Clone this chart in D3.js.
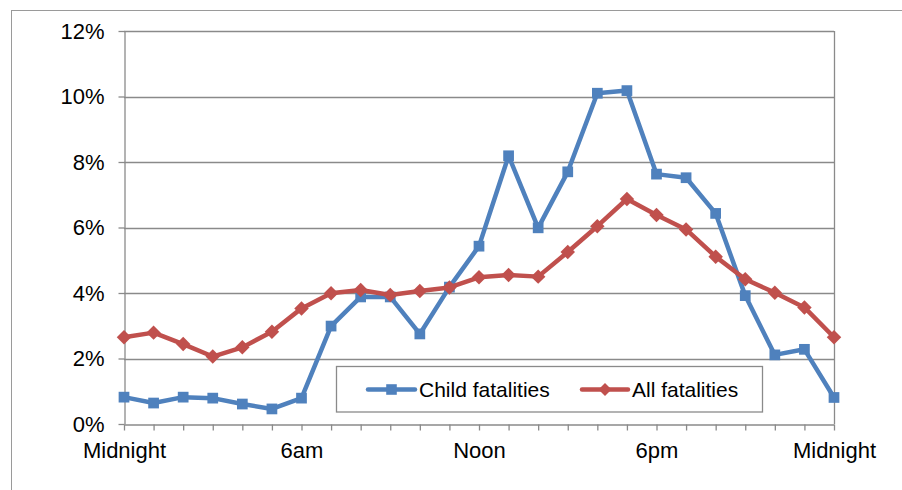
<!DOCTYPE html>
<html>
<head>
<meta charset="utf-8">
<script src="https://cdn.jsdelivr.net/npm/d3@7/dist/d3.min.js"></script>
<style>
  body { margin: 0; background: #fff; }
  svg text { font-family: "Liberation Sans", Arial, sans-serif; fill: #000; }
</style>
</head>
<body>
<svg id="chart" width="902" height="490"></svg>
<script>
// Hour of day (0 = midnight, 24 = next midnight)
const hours = [0, 1, 2, 3, 4, 5, 6, 7, 8, 9, 10, 11, 12, 13, 14, 15, 16, 17, 18, 19, 20, 21, 22, 23, 24];

// Share of fatalities by hour (%)
const childFatalities = [0.82, 0.64, 0.82, 0.79, 0.61, 0.46, 0.79, 2.99, 3.88, 3.88, 2.75, 4.18, 5.43,
                         8.19, 5.99, 7.70, 10.10, 10.18, 7.63, 7.52, 6.43, 3.92, 2.11, 2.28, 0.81];
const allFatalities   = [2.65, 2.79, 2.44, 2.06, 2.34, 2.82, 3.53, 3.99, 4.09, 3.94, 4.06, 4.17, 4.48,
                         4.55, 4.50, 5.25, 6.04, 6.87, 6.38, 5.94, 5.11, 4.42, 4.01, 3.56, 2.65];

const seriesNames = ["Child fatalities", "All fatalities"];

// Axis labels
const labelHours = [0, 6, 12, 18, 24];
const labelTexts = ["Midnight", "6am", "Noon", "6pm", "Midnight"];
const yTicks = [0, 2, 4, 6, 8, 10, 12];

const BLUE = "#4F81BD", RED = "#C0504D", GRID = "#8a8a8a";

const svg = d3.select("#chart");
const plot = { left: 124, right: 834, top: 31, bottom: 424 };

const x = d3.scaleLinear().domain([0, 24]).range([plot.left, plot.right]);
const y = d3.scaleLinear().domain([0, 12]).range([plot.bottom, plot.top]);

// Outer chart frame
svg.append("rect")
  .attr("x", 11.5).attr("y", 10.5).attr("width", 1000).attr("height", 1000)
  .attr("fill", "none").attr("stroke", "#9a9a9a").attr("stroke-width", 1);

// Horizontal gridlines
svg.append("g").selectAll("line")
  .data(yTicks.filter(d => d > 0))
  .join("line")
  .attr("x1", plot.left).attr("x2", plot.right)
  .attr("y1", d => Math.round(y(d)) + 0.5).attr("y2", d => Math.round(y(d)) + 0.5)
  .attr("stroke", GRID).attr("stroke-width", 1.3);

// Right edge of the plot area
svg.append("line")
  .attr("x1", plot.right + 0.5).attr("x2", plot.right + 0.5)
  .attr("y1", plot.top).attr("y2", plot.bottom)
  .attr("stroke", GRID).attr("stroke-width", 1.3);

// Y axis
const yAxis = svg.append("g")
  .attr("transform", `translate(${plot.left + 0.5},0)`)
  .call(d3.axisLeft(y).tickValues(yTicks).tickSize(6).tickSizeOuter(0).tickPadding(14)
        .tickFormat(d => d + "%"));
yAxis.selectAll("path, line").attr("stroke", GRID).attr("stroke-width", 1.3);
yAxis.selectAll("text").style("font-size", "22px").attr("dy", "0.33em");

// X axis: a tick every hour, labels every six hours
const xAxis = svg.append("g")
  .attr("transform", `translate(0,${plot.bottom + 0.5})`)
  .call(d3.axisBottom(x).tickValues(hours).tickSize(6).tickSizeOuter(0)
        .tickFormat(d => { const i = labelHours.indexOf(d); return i >= 0 ? labelTexts[i] : ""; }));
xAxis.selectAll("path, line").attr("stroke", GRID).attr("stroke-width", 1.3);
xAxis.selectAll("text").style("font-size", "22px").attr("y", 18).attr("dy", "0.71em");

// Diamond marker: a square turned 45°
const diamond = {
  draw(ctx, size) {
    const r = Math.sqrt(size) / 2;
    ctx.moveTo(0, -r); ctx.lineTo(r, 0); ctx.lineTo(0, r); ctx.lineTo(-r, 0); ctx.closePath();
  }
};

// Series lines and markers
const line = d3.line().x((d, i) => x(hours[i])).y(d => y(d));

function drawSeries(values, color, shape, size) {
  const g = svg.append("g");
  g.append("path").datum(values)
    .attr("d", line).attr("fill", "none")
    .attr("stroke", color).attr("stroke-width", 4.5).attr("stroke-linejoin", "round");
  g.selectAll("path.marker").data(values).join("path")
    .attr("class", "marker")
    .attr("d", d3.symbol().type(shape).size(size))
    .attr("transform", (d, i) => `translate(${x(hours[i])},${y(d)})`)
    .attr("fill", color);
}

drawSeries(childFatalities, BLUE, d3.symbolSquare, 115);
drawSeries(allFatalities, RED, diamond, 210);

// Legend
const legend = svg.append("g");
legend.append("rect")
  .attr("x", 336.5).attr("y", 366.5).attr("width", 426).attr("height", 45.5)
  .attr("fill", "#fff").attr("stroke", "#8a8a8a").attr("stroke-width", 1.3);

const legendItems = [
  { name: seriesNames[0], color: BLUE, shape: d3.symbolSquare, size: 112, x1: 368, x2: 415, tx: 419 },
  { name: seriesNames[1], color: RED, shape: diamond, size: 170, x1: 582, x2: 628, tx: 632 }
];
legendItems.forEach(it => {
  legend.append("line")
    .attr("x1", it.x1).attr("x2", it.x2).attr("y1", 389.5).attr("y2", 389.5)
    .attr("stroke", it.color).attr("stroke-width", 4.5).attr("stroke-linecap", "round");
  legend.append("path")
    .attr("d", d3.symbol().type(it.shape).size(it.size))
    .attr("transform", `translate(${(it.x1 + it.x2) / 2},389.5)`)
    .attr("fill", it.color);
  legend.append("text")
    .attr("x", it.tx).attr("y", 396.5)
    .style("font-size", "21px")
    .text(it.name);
});
</script>
</body>
</html>
